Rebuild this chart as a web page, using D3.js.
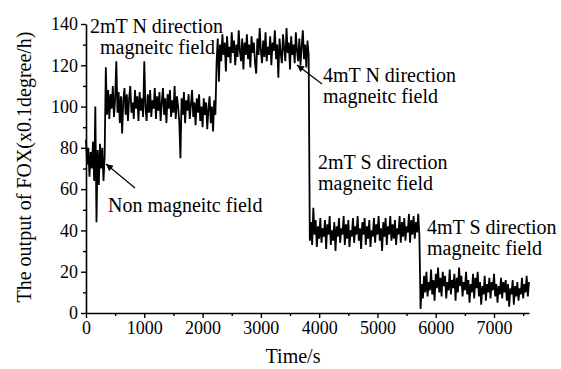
<!DOCTYPE html>
<html>
<head>
<meta charset="utf-8">
<script src="https://cdn.jsdelivr.net/npm/d3@7"></script>
<style>
  html, body { margin: 0; padding: 0; background: #fff; }
  svg { display: block; }
</style>
</head>
<body>
<svg id="chart" width="561" height="369"></svg>
<script>
const sampleStep = 20;
const segmentStarts = [0, 340, 2240, 3840, 5740];
const nonFieldValues = [84, 72, 80, 66, 78, 70, 83, 64, 100, 44, 79, 62, 82, 70, 80, 64, 76];
const n2mTValues = [119, 96, 108, 94, 106, 99, 110, 95, 104, 122, 97, 107, 92, 105, 87, 103, 109, 96, 106, 93,
  104, 110, 97, 102, 94, 108, 99, 105, 93, 107, 98, 104, 95, 122, 100, 93, 106, 97, 108, 95,
  103, 99, 109, 94, 105, 98, 107, 93, 102, 109, 96, 104, 92, 106, 99, 108, 95, 103, 97, 110,
  94, 105, 100, 93, 75, 104, 96, 107, 92, 103, 98, 106, 94, 101, 108, 95, 102, 91, 104, 97,
  106, 93, 100, 90, 104, 96, 102, 89, 99, 105, 92, 100, 88, 103, 96];
const n4mTValues = [121, 133, 112, 130, 122, 135, 125, 131, 117, 134, 124, 129, 121, 136, 126, 132, 120, 130, 124, 137,
  127, 122, 133, 118, 131, 125, 135, 123, 130, 119, 134, 126, 131, 121, 116, 133, 125, 138, 127, 121,
  132, 124, 136, 122, 129, 125, 134, 120, 131, 127, 137, 123, 130, 114, 133, 126, 121, 135, 128, 122,
  138, 126, 131, 118, 134, 125, 130, 121, 136, 127, 122, 133, 120, 129, 137, 123, 130, 119, 132, 125];
const s2mTValues = [35, 44, 33, 51, 38, 45, 32, 42, 36, 46, 34, 41, 37, 45, 31, 43, 38, 47, 33, 40,
  35, 44, 30, 42, 37, 46, 34, 41, 38, 47, 33, 43, 36, 45, 32, 40, 37, 46, 34, 42,
  38, 47, 35, 41, 31, 44, 38, 46, 33, 42, 36, 45, 32, 40, 37, 46, 34, 43, 38, 47,
  35, 41, 30, 44, 37, 46, 33, 42, 38, 47, 35, 43, 36, 45, 33, 41, 38, 47, 34, 44,
  37, 46, 35, 42, 39, 48, 34, 45, 38, 47, 36, 44, 39, 48, 37];
const s4mTValues = [2, 14, 7, 18, 10, 20, 8, 15, 11, 21, 9, 16, 6, 19, 12, 22, 10, 17, 8, 20,
  13, 18, 7, 15, 11, 21, 9, 16, 12, 19, 6, 17, 10, 22, 13, 18, 8, 15, 11, 20,
  9, 16, 5, 14, 10, 19, 7, 17, 12, 20, 8, 15, 4, 13, 9, 18, 6, 14, 10, 17,
  7, 15, 11, 19, 8, 14, 5, 13, 9, 17, 7, 15, 10, 16, 6, 14, 3, 12, 9, 16,
  4, 13, 8, 15, 6, 12, 9, 17, 7, 14, 10, 18, 8, 15];
const seriesSegments = [nonFieldValues, n2mTValues, n4mTValues, s2mTValues, s4mTValues];

const xTickValues = [0, 1000, 2000, 3000, 4000, 5000, 6000, 7000];
const xMinorTicks = [500, 1500, 2500, 3500, 4500, 5500, 6500, 7500];
const yTickValues = [0, 20, 40, 60, 80, 100, 120, 140];
const yMinorTicks = [10, 30, 50, 70, 90, 110, 130];

const xTitle = "Time/s";
const yTitle = "The output of FOX(x0.1degree/h)";
const annotations = [
  { lines: ["2mT N direction", "magneitc field"] },
  { lines: ["4mT N direction", "magneitc field"] },
  { lines: ["2mT S direction", "magneitc field"] },
  { lines: ["4mT S direction", "magneitc field"] },
  { lines: ["Non magneitc field"] }
];

const FONT = "Liberation Serif";

// ---- build points ----
const points = [];
seriesSegments.forEach((vals, s) => {
  vals.forEach((v, i) => points.push({ t: segmentStarts[s] + i * sampleStep, v }));
});

// ---- layout ----
const svg = d3.select("#chart").attr("font-family", FONT);
const x = d3.scaleLinear().domain([0, 7600]).range([86, 529]);
const y = d3.scaleLinear().domain([0, 140]).range([313, 24]);

svg.append("defs").append("marker")
  .attr("id", "ah").attr("viewBox", "0 0 10 10").attr("refX", 10).attr("refY", 5)
  .attr("markerWidth", 9).attr("markerHeight", 7).attr("markerUnits", "userSpaceOnUse")
  .attr("orient", "auto")
  .append("path").attr("d", "M0,0 L10,5 L0,10 z").attr("fill", "#000");

// data line
svg.append("path")
  .datum(points)
  .attr("fill", "none")
  .attr("stroke", "#000")
  .attr("stroke-width", 1.8)
  .attr("d", d3.line().x(d => x(d.t)).y(d => y(d.v)));

// axes
const xAxis = d3.axisBottom(x).tickValues(xTickValues).tickFormat(d3.format("d"))
  .tickSize(5).tickSizeOuter(0).tickPadding(3);
const gx = svg.append("g").attr("transform", `translate(0,${y(0)})`).call(xAxis).attr("font-family", FONT);
gx.selectAll(".tick text").attr("font-size", 18).attr("fill", "#000");
gx.select(".domain").attr("stroke-width", 1.6);
gx.selectAll(".tick line").attr("stroke-width", 1.4);
const xMinor = d3.axisBottom(x).tickValues(xMinorTicks).tickSize(3).tickFormat("");
const gxm = svg.append("g").attr("transform", `translate(0,${y(0)})`).call(xMinor);
gxm.select(".domain").remove();
gxm.selectAll(".tick line").attr("stroke-width", 1.4);

const yAxis = d3.axisLeft(y).tickValues(yTickValues).tickFormat(d3.format("d"))
  .tickSize(5).tickSizeOuter(0).tickPadding(3);
const gy = svg.append("g").attr("transform", `translate(${x(0)},0)`).call(yAxis).attr("font-family", FONT);
gy.selectAll(".tick text").attr("font-size", 18).attr("fill", "#000");
gy.select(".domain").attr("stroke-width", 1.6);
gy.selectAll(".tick line").attr("stroke-width", 1.4);
const yMinor = d3.axisLeft(y).tickValues(yMinorTicks).tickSize(3).tickFormat("");
const gym = svg.append("g").attr("transform", `translate(${x(0)},0)`).call(yMinor);
gym.select(".domain").remove();
gym.selectAll(".tick line").attr("stroke-width", 1.4);

// axis titles
svg.append("text").attr("x", 293).attr("y", 363).attr("text-anchor", "middle")
  .attr("font-family", FONT).attr("font-size", 20).text(xTitle);
svg.append("text").attr("transform", "translate(31,167) rotate(-90)").attr("text-anchor", "middle")
  .attr("font-family", FONT).attr("font-size", 20).text(yTitle);

// annotations
const annPos = [
  { x: 90, y: 33, dx: [0, 10], dy: 21 },
  { x: 323, y: 82, dx: [0, 0], dy: 21 },
  { x: 318, y: 169, dx: [0, 0], dy: 21 },
  { x: 427, y: 234, dx: [0, 0], dy: 21 },
  { x: 108, y: 212, dx: [0], dy: 21 }
];
annotations.forEach((a, i) => {
  const p = annPos[i];
  a.lines.forEach((ln, j) => {
    svg.append("text").attr("x", p.x + p.dx[j]).attr("y", p.y + j * p.dy)
      .attr("font-family", FONT).attr("font-size", 20).text(ln);
  });
});

// arrows
svg.append("line").attr("x1", 135).attr("y1", 188).attr("x2", 106).attr("y2", 164)
  .attr("stroke", "#000").attr("stroke-width", 1.2).attr("marker-end", "url(#ah)");
svg.append("line").attr("x1", 322).attr("y1", 84).attr("x2", 297).attr("y2", 65)
  .attr("stroke", "#000").attr("stroke-width", 1.2).attr("marker-end", "url(#ah)");
</script>
</body>
</html>
